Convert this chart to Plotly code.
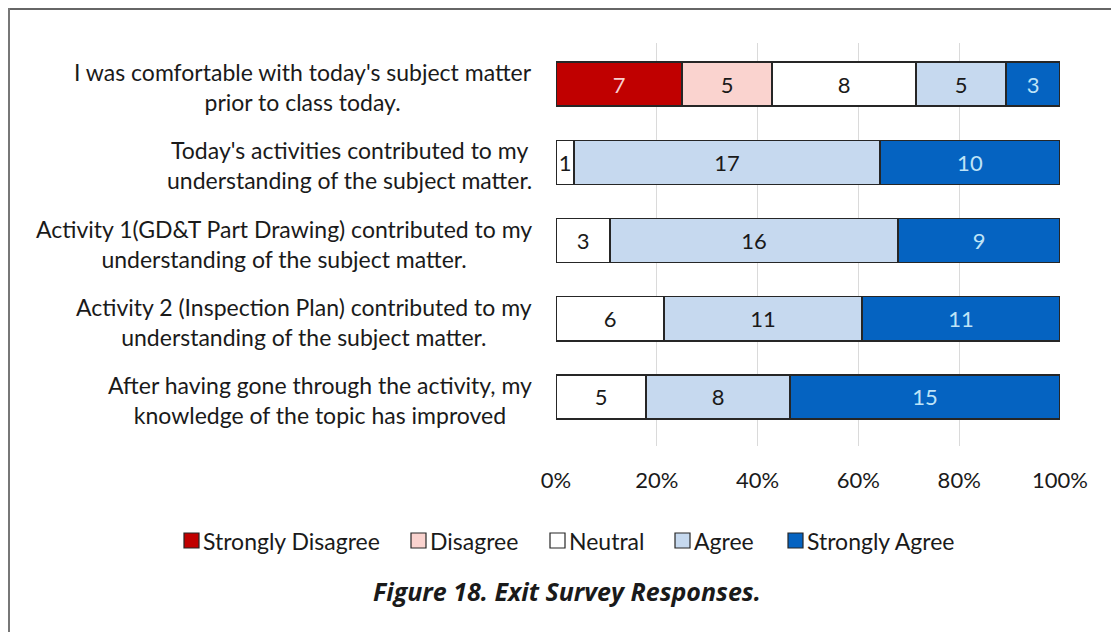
import plotly.graph_objects as go

questions = [
    "I was comfortable with today's subject matter<br>prior to class today.",
    "Today's activities contributed to my<br>understanding of the subject matter.",
    "Activity 1(GD&T Part Drawing) contributed to my<br>understanding of the subject matter.",
    "Activity 2 (Inspection Plan) contributed to my<br>understanding of the subject matter.",
    "After having gone through the activity, my<br>knowledge of the topic has improved",
]
series_names = ["Strongly Disagree", "Disagree", "Neutral", "Agree", "Strongly Agree"]
strongly_disagree = [7, 0, 0, 0, 0]
disagree = [5, 0, 0, 0, 0]
neutral = [8, 1, 3, 6, 5]
agree = [5, 17, 16, 11, 8]
strongly_agree = [3, 10, 9, 11, 15]
tick_vals = [0, 20, 40, 60, 80, 100]
tick_text = ["0%", "20%", "40%", "60%", "80%", "100%"]
caption = "Figure 18. Exit Survey Responses."

colors = ["#C00000", "#FAD3CF", "#FFFFFF", "#C6D9EF", "#0563C1"]
text_colors = ["#F8D0D0", "#1a1a1a", "#1a1a1a", "#1a1a1a", "#BFE3F7"]
all_series = [strongly_disagree, disagree, neutral, agree, strongly_agree]

# layout (reference-pixel positions of legend squares)
legend_sq_x = [184, 411, 550, 675, 788]

ids = list(range(len(questions)))

OFF = 8  # page body margin
W, H = 1119 - OFF, 632 - OFF
L, R, T, B = 556 - OFF, 1060 - OFF, 43 - OFF, 446 - OFF
pw, ph = R - L, B - T

def px(x):
    return (x - OFF - L) / pw

def py(y):
    return (B - (y - OFF)) / ph

FONT = "Lato"
fig = go.Figure()
for name, vals, col, tcol in zip(series_names, all_series, colors, text_colors):
    fig.add_trace(go.Bar(
        y=ids,
        x=[v if v else None for v in vals],
        name=name,
        orientation="h",
        marker=dict(color=col, line=dict(color="#262626", width=1.5)),
        text=[str(v) if v else "" for v in vals],
        textposition="inside",
        insidetextanchor="middle",
        textfont=dict(family=FONT, size=22, color=tcol),
        constraintext="none",
        hoverinfo="skip",
        showlegend=False,
    ))

annotations = []
for i, q in enumerate(questions):
    annotations.append(dict(
        x=0, xref="paper", y=i, yref="y", xanchor="right", yanchor="middle",
        xshift=-22, yshift=-3, text=q, showarrow=False, align="center",
        font=dict(family=FONT, size=23, color="#1a1a1a"),
    ))

shapes = []
for name, col, sx in zip(series_names, colors, legend_sq_x):
    shapes.append(dict(type="rect", xref="paper", yref="paper",
                       x0=px(sx), x1=px(sx + 15), y0=py(533), y1=py(548),
                       fillcolor=col, line=dict(color="#262626", width=1.2)))
    annotations.append(dict(
        x=px(sx + 17), xref="paper", y=py(541), yref="paper", xanchor="left", yanchor="middle",
        text=name, showarrow=False, font=dict(family=FONT, size=23, color="#1a1a1a"),
    ))

annotations.append(dict(
    x=px(567), xref="paper", y=py(591), yref="paper", xanchor="center", yanchor="middle",
    text="<b><i>" + caption + "</i></b>", showarrow=False,
    font=dict(family="Open Sans", size=25, color="#1a1a1a"),
))

shapes += [
    dict(type="line", xref="paper", yref="paper", x0=px(8), x1=px(1130), y0=py(9), y1=py(9),
         line=dict(color="#333333", width=1.5)),
    dict(type="line", xref="paper", yref="paper", x0=px(9), x1=px(9), y0=py(8), y1=py(650),
         line=dict(color="#777777", width=2)),
]

fig.update_layout(
    width=W, height=H,
    margin=dict(l=L, r=W - R, t=T, b=H - B),
    barmode="stack", barnorm="percent", bargap=0.437,
    paper_bgcolor="white", plot_bgcolor="white",
    font=dict(family=FONT, size=22, color="#1a1a1a"),
    xaxis=dict(range=[0, 100], tickvals=tick_vals, ticktext=tick_text, showgrid=True,
               gridcolor="#DADADA", gridwidth=1, zeroline=False, showline=False,
               ticks="", ticklabelstandoff=19, tickfont=dict(family=FONT, size=22, color="#1a1a1a")),
    yaxis=dict(showticklabels=False, showgrid=False, zeroline=False,
               range=[4.627, -0.526], ticks=""),
    annotations=annotations,
    shapes=shapes,
    showlegend=False,
)

fig.write_html("out.html")
